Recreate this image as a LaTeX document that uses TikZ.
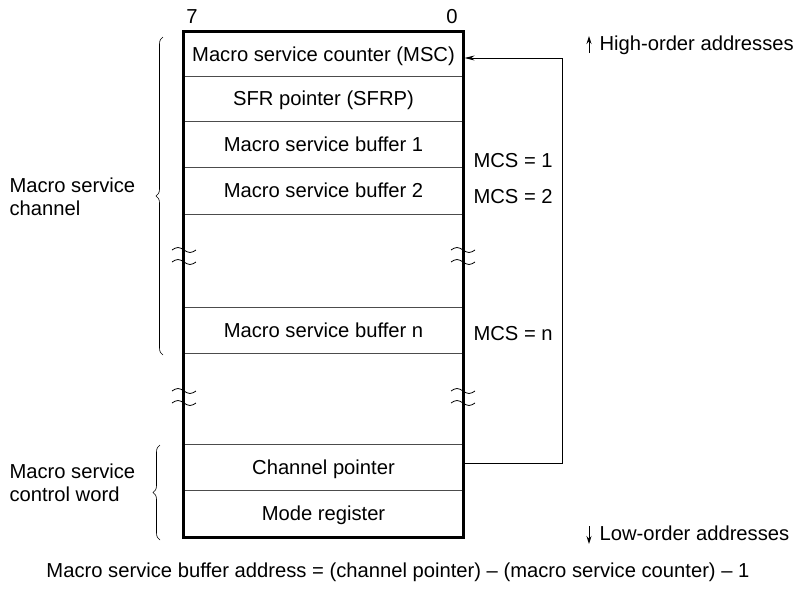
\documentclass[tikz,border=0pt]{standalone}
\usepackage{fontspec}
\setmainfont{Liberation Sans}
\usetikzlibrary{arrows.meta,decorations.pathreplacing}

\begin{document}
\begin{tikzpicture}[x=1pt,y=-1pt,>=stealth,
  font=\fontsize{20.2}{22.5}\selectfont,
  row/.style={draw=black!70,line width=0.7pt,minimum width=279pt,inner sep=0pt,text depth=0pt},
  brk/.style={line width=0.8pt},
  bracket/.style={decorate,decoration={brace,amplitude=7pt},line width=0.6pt}]
  \useasboundingbox (0,0) rectangle (797,592);
  % memory rows
  \foreach \y/\name/\txt/\h in {54/msc/Macro service counter (MSC)/44,98.5/sfrp/SFR pointer (SFRP)/45,144/buf1/Macro service buffer 1/46,190.5/buf2/Macro service buffer 2/47,330/bufn/Macro service buffer n/46,467/chp/Channel pointer/46,513.5/mode/Mode register/47}{
    \node[row,minimum height=\h pt] (\name) at (323.5,\y) {\txt};
  }
  \draw[line width=2.4pt] (msc.north west) rectangle (mode.south east);
  \node (b7) at (192,17) {7};
  \node (b0) at (452,17) {0};
  % break marks
  \foreach \x in {184,463}
    \foreach \y in {256,397}
      \foreach \d in {-6,6}
        \draw[brk] (\x-12,\y+\d) sin (\x-6,\y+\d-2.5) cos (\x,\y+\d) sin (\x+6,\y+\d+2.5) cos (\x+12,\y+\d);
  % pointer loop
  \draw[-{Stealth[length=10pt,width=5pt]},line width=0.8pt,shorten >=1.2pt]
    ([yshift=4pt]chp.east) -- ++(99,0) |- ([yshift=-4pt]msc.east);
  \node[anchor=west] (mcs1) at (470,161) {MCS = 1};
  \node[anchor=west] (mcs2) at (470,197) {MCS = 2};
  \node[anchor=west] (mcsn) at (470,334) {MCS = n};
  % left braces
  \draw[bracket] (163,355) -- (163,37);
  \draw[bracket] (160,540) -- (160,445);
  \node[align=left,anchor=west] (chan) at (6,197) {Macro service\\channel};
  \node[align=left,anchor=west] (cword) at (6,483) {Macro service\\control word};
  % address direction
  \node[anchor=west] (hi) at (596,45) {High-order addresses};
  \node[anchor=west] (lo) at (596,533) {Low-order addresses};
  \draw[-{Stealth[length=8pt,width=5pt]},line width=0.9pt] ([shift={(-7,8)}]hi.west) -- ++(0,-17);
  \draw[-{Stealth[length=8pt,width=5pt]},line width=0.9pt] ([shift={(-7,-7)}]lo.west) -- ++(0,18);
  \node (eq) at (398,572) {Macro service buffer address = (channel pointer) – (macro service counter) – 1};
\end{tikzpicture}
\end{document}
